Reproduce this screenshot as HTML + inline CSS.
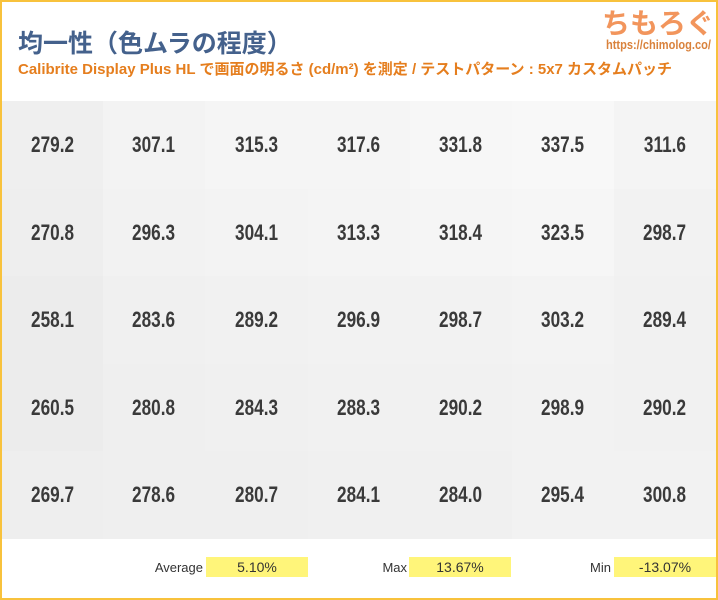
<!DOCTYPE html>
<html><head><meta charset="utf-8"><style>
body{margin:0;width:718px;height:600px;overflow:hidden;background:#fff;font-family:"Liberation Sans","Noto Sans CJK JP",sans-serif;}
#f{position:absolute;left:0;top:0;width:714px;height:596px;border:2px solid #f8c23c;}
.t{position:absolute;left:18px;top:24px;font-size:25px;font-weight:bold;color:#44618c;font-family:"Noto Sans CJK JP",sans-serif;}
.s{position:absolute;left:18px;top:58px;font-size:15px;font-weight:bold;color:#e57e1e;white-space:nowrap;}
.logo{position:absolute;left:602px;top:2px;font-size:28px;font-weight:bold;color:#f2955c;font-family:"Noto Sans CJK JP",sans-serif;}
.url{position:absolute;left:606px;top:37px;font-size:13px;font-weight:bold;color:#d9823c;transform:scaleX(0.85);transform-origin:left;}
.c{position:absolute;height:88px;line-height:88px;text-align:center;color:#3a3a3a;font-size:22px;font-weight:bold;}
.c span{display:inline-block;transform:scaleX(0.78);}
.l{position:absolute;top:558px;font-size:13px;color:#333;text-align:right;width:80px;line-height:20px;}
.y{position:absolute;top:557px;height:20px;width:102px;background:#fff57a;font-size:14px;color:#333;text-align:center;line-height:20px;}
</style></head><body>
<div id="f"></div>
<div class="t">均一性（色ムラの程度）</div>
<div class="s">Calibrite Display Plus HL で画面の明るさ (cd/m²) を測定 / テストパターン : 5x7 カスタムパッチ</div>
<div class="logo">ちもろぐ</div>
<div class="url">https://chimolog.co/</div>
<div id="g"></div>
<div class="l" style="left:123px">Average</div><div class="y" style="left:206px">5.10%</div>
<div class="l" style="left:327px">Max</div><div class="y" style="left:409px">13.67%</div>
<div class="l" style="left:531px">Min</div><div class="y" style="left:614px">-13.07%</div>
<script>
var d=[[279.2,307.1,315.3,317.6,331.8,337.5,311.6],[270.8,296.3,304.1,313.3,318.4,323.5,298.7],[258.1,283.6,289.2,296.9,298.7,303.2,289.4],[260.5,280.8,284.3,288.3,290.2,298.9,290.2],[269.7,278.6,280.7,284.1,284.0,295.4,300.8]];
var h='';var xs=[2,103,205,308,410,512,614,716];
for(var r=0;r<5;r++)for(var c=0;c<7;c++){var v=d[r][c];var g=Math.round(236+(v-258.1)/79.4*12);
h+='<div class="c" style="left:'+xs[c]+'px;top:'+(101+r*87.6)+'px;width:'+(xs[c+1]-xs[c])+'px;background:rgb('+g+','+g+','+g+')"><span>'+v.toFixed(1)+'</span></div>';}
document.getElementById('g').innerHTML=h;
</script>
</body></html>
